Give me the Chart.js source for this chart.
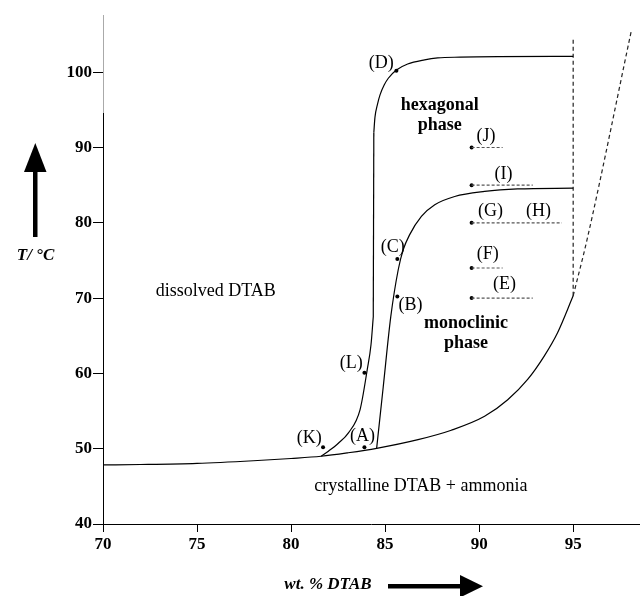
<!DOCTYPE html>
<html><head><meta charset="utf-8">
<script src="https://cdn.jsdelivr.net/npm/chart.js@4.4.1/dist/chart.umd.min.js"></script>
<style>html,body{margin:0;padding:0;background:#fff;}#wrap{width:643px;height:596px;position:relative;}</style>
</head><body><div id="wrap"><canvas id="c"></canvas></div>
<script>
// ---- tick values ----
const xTicks = [70, 75, 80, 85, 90, 95];
const yTicks = [40, 50, 60, 70, 80, 90, 100];

// ---- boundary lines (wt.% DTAB, T/°C) ----
// lower boundary: crystalline DTAB + ammonia
const solidusX = [70, 72, 75, 78, 80, 81.6, 83, 84.55, 86.75, 88.52, 90.29, 91.52, 92.58, 93.46, 94.17, 95];
const solidusY = [47.85, 47.9, 48.05, 48.4, 48.7, 49.0, 49.45, 50.05, 51.2, 52.45, 54.3, 56.5, 59.2, 62.3, 65.4, 70.3];

// hexagonal boundary (K - L - D), in three pieces
const hexLowX = [81.6, 82.0, 82.5, 83.05, 83.67, 84.05, 84.25, 84.37];
const hexLowY = [49.0, 49.7, 50.7, 52.1, 55.2, 60.5, 63.8, 67.5];
const hexMidX = [84.37, 84.4];
const hexMidY = [67.5, 92.0];
const hexTopX = [84.4, 84.46, 84.6, 84.73, 84.95, 85.17, 85.6, 86.2, 87.1, 87.8, 89, 91, 95];
const hexTopY = [92.0, 94.0, 95.8, 97.0, 98.3, 99.2, 100.3, 101.1, 101.65, 101.9, 102.0, 102.07, 102.1];

// monoclinic boundary (A - B - C)
const monoX = [84.55, 84.9, 85.3, 85.7, 85.96, 86.3, 86.93, 87.64, 88.7, 90.29, 92.05, 95];
const monoY = [50.05, 58.2, 67.5, 73.8, 76.4, 78.4, 80.85, 82.4, 83.5, 84.17, 84.5, 84.6];

const limitX = [95, 95];
const limitY = [70.3, 104.6];

const rightX = [95, 95.75, 98.1];
const rightY = [70.3, 77.9, 105.6];

// ---- measurement tie lines from sample points ----
const tieY = [90, 85, 80, 74, 70];
const tieStartX = [89.6, 89.6, 89.6, 89.6, 89.6];
const tieEndX = [91.25, 92.85, 94.4, 91.25, 92.85];

// ---- sample points D C B L K A J I G F E ----
const dotX = [85.6, 85.65, 85.65, 83.9, 81.7, 83.9, 89.6, 89.6, 89.6, 89.6, 89.6];
const dotY = [100.2, 75.2, 70.2, 60.1, 50.2, 50.2, 90, 85, 80, 74, 70];

// ---- annotations (text, anchored in data units) ----
const annoText = ['(D)', 'hexagonal', 'phase', '(J)', '(I)', '(G)', '(H)', '(C)', '(F)', '(E)', '(B)', 'monoclinic', 'phase', '(L)', '(K)', '(A)', 'dissolved DTAB', 'crystalline DTAB + ammonia'];
const annoX = [84.8, 87.9, 87.9, 90.37, 91.3, 90.6, 93.15, 85.4, 90.46, 91.35, 86.35, 89.3, 89.3, 83.2, 80.97, 83.8, 76.0, 86.9];
const annoY = [101.2, 95.55, 92.9, 91.5, 86.5, 81.5, 81.5, 76.7, 75.8, 71.8, 69.1, 66.7, 64.0, 61.4, 51.4, 51.6, 70.9, 45.0];
const annoBold = [false, true, true, false, false, false, false, false, false, false, false, true, true, false, false, false, false, false];

const FONT = "'Liberation Serif', 'Times New Roman', serif";
const pts = (xs, ys) => xs.map((x, i) => ({x: x, y: ys[i]}));
const solid = (xs, ys) => ({data: pts(xs, ys), borderColor: '#000', borderWidth: 1.2, pointRadius: 0, cubicInterpolationMode: 'monotone', showLine: true});

const datasets = [
  solid(solidusX, solidusY),
  solid(hexLowX, hexLowY),
  solid(hexMidX, hexMidY),
  solid(hexTopX, hexTopY),
  solid(monoX, monoY),
  {data: pts(limitX, limitY), borderColor: '#222', borderWidth: 1.2, borderDash: [4, 3], pointRadius: 0, showLine: true},
  {data: pts(rightX, rightY), borderColor: '#222', borderWidth: 1.2, borderDash: [4, 3], pointRadius: 0, cubicInterpolationMode: 'monotone', showLine: true},
];
tieY.forEach((y, i) => {
  datasets.push({data: [{x: tieStartX[i], y: y}, {x: tieEndX[i], y: y}], borderColor: '#555', borderWidth: 1.2, borderDash: [3, 2], pointRadius: 0, showLine: true});
});
datasets.push({data: pts(dotX, dotY), showLine: false, pointRadius: 2, pointBackgroundColor: '#000', pointBorderWidth: 0, borderColor: '#000'});

const annoPlugin = {
  id: 'anno',
  afterDatasetsDraw(chart) {
    const ctx = chart.ctx, xs = chart.scales.x, ys = chart.scales.y;
    ctx.save();
    ctx.fillStyle = '#000';
    ctx.textAlign = 'center';
    ctx.textBaseline = 'middle';
    annoText.forEach((t, i) => {
      ctx.font = (annoBold[i] ? 'bold ' : '') + '18px ' + FONT;
      ctx.fillText(t, xs.getPixelForValue(annoX[i]), ys.getPixelForValue(annoY[i]));
    });
    ctx.restore();
  },
  afterDraw(chart) {
    const ctx = chart.ctx, area = chart.chartArea;
    ctx.save();
    // lighter top portion of the y axis line, as in the scan
    ctx.strokeStyle = '#aaa';
    ctx.lineWidth = 1;
    ctx.beginPath();
    ctx.moveTo(Math.round(area.left) + 0.5, area.top);
    ctx.lineTo(Math.round(area.left) + 0.5, 113);
    ctx.stroke();
    ctx.fillStyle = '#000';
    // y axis title + arrow
    ctx.font = 'italic bold 17px ' + FONT;
    ctx.textAlign = 'center';
    ctx.textBaseline = 'middle';
    ctx.fillText('T/ \u00B0C', 35.5, 256);
    ctx.fillRect(33, 170, 4.5, 67);
    ctx.beginPath();
    ctx.moveTo(35.3, 143); ctx.lineTo(46.5, 172); ctx.lineTo(24, 172); ctx.closePath(); ctx.fill();
    // x axis title + arrow
    ctx.fillText('wt. % DTAB', 328, 585);
    ctx.fillRect(388, 584, 76, 4.5);
    ctx.beginPath();
    ctx.moveTo(483, 586.2); ctx.lineTo(460, 575); ctx.lineTo(460, 597.5); ctx.closePath(); ctx.fill();
    ctx.restore();
  }
};

new Chart(document.getElementById('c'), {
  type: 'scatter',
  data: {datasets: datasets},
  plugins: [annoPlugin],
  options: {
    responsive: true,
    maintainAspectRatio: false,
    animation: false,
    events: [],
    layout: {padding: {left: 0, right: 0, top: 15, bottom: 0}},
    plugins: {legend: {display: false}, tooltip: {enabled: false}},
    scales: {
      x: {
        type: 'linear', min: 70, max: 98.5,
        afterBuildTicks: s => { s.ticks = xTicks.map(v => ({value: v})); },
        afterFit: s => { s.height = 72; },
        ticks: {color: '#000', font: {family: FONT, size: 17, weight: 'bold'}, padding: 2, maxRotation: 0},
        grid: {display: true, drawOnChartArea: false, drawTicks: true, tickLength: 8, color: '#000', lineWidth: 1},
        border: {display: true, color: '#000', width: 1}
      },
      y: {
        type: 'linear', min: 40, max: 107.6,
        afterBuildTicks: s => { s.ticks = yTicks.map(v => ({value: v})); },
        afterFit: s => { s.width = 103; },
        ticks: {color: '#000', font: {family: FONT, size: 17, weight: 'bold'}, padding: 1},
        grid: {display: true, drawOnChartArea: false, drawTicks: true, tickLength: 10, color: '#000', lineWidth: 1},
        border: {display: true, color: '#000', width: 1}
      }
    }
  }
});
</script>
</body></html>
